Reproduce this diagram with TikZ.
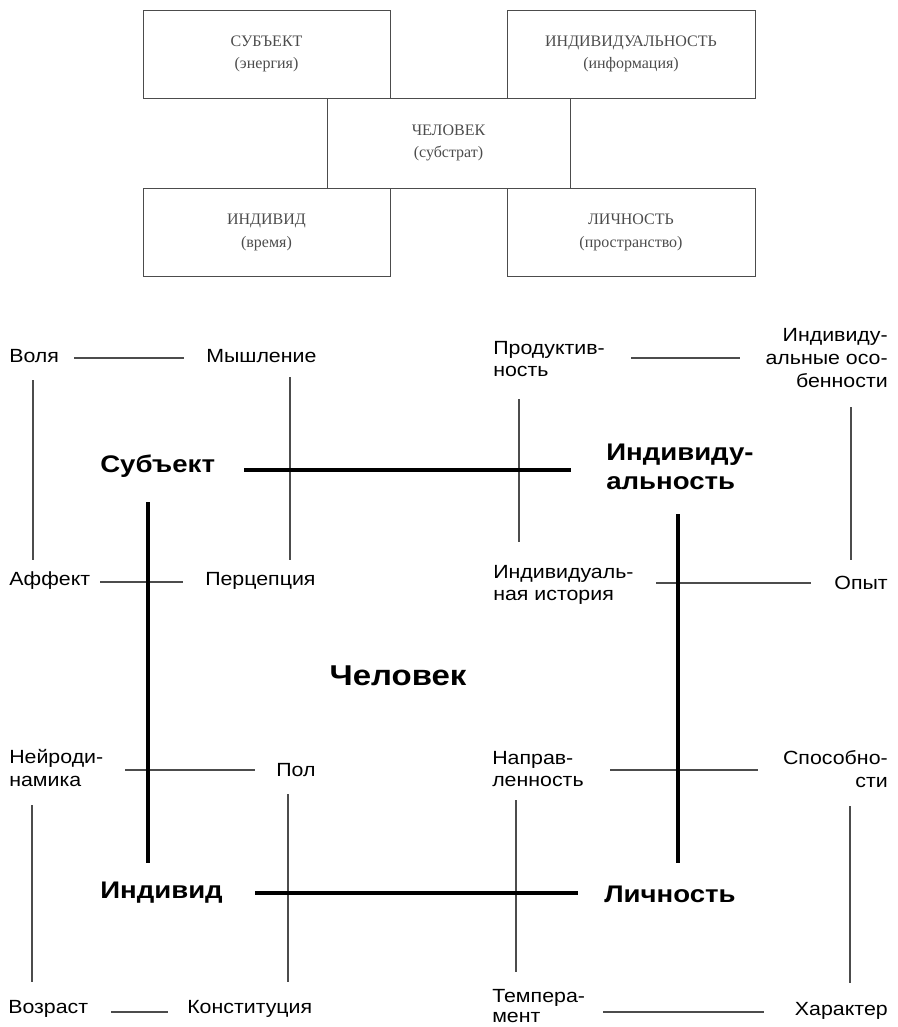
\documentclass[tikz,border=0pt]{standalone}
\usepackage{fontspec}
\setmainfont{Liberation Serif}
\newfontfamily\labfont[FakeStretch=1.12]{Liberation Sans}
\newfontfamily\bigfont[FakeStretch=1.15]{Liberation Sans}
\usepackage{tikz}
\usetikzlibrary{positioning}

\tikzset{
    boxnode/.style={draw=black!70,line width=0.7pt,minimum width=#1*0.75pt,minimum height=88*0.75pt,
        align=center,text=black!70,font=\fontsize{12}{17}\selectfont},
    lab/.style={inner sep=0pt,align=left,font=\labfont\fontsize{14.3}{17}\selectfont},
    labr/.style={lab,align=right,anchor=east},
    big/.style={inner sep=0pt,align=left,font=\bigfont\bfseries\fontsize{18}{22}\selectfont},
    thinline/.style={black!70,line width=0.8pt},
    thickline/.style={black,line width=3pt}
}

\begin{document}
\begin{tikzpicture}[x=0.75pt,y=-0.75pt]
                \useasboundingbox (0,0) rectangle (898,1027);
                % top scheme
                \node[boxnode=247] (subjbox) at (266.5,54) {СУБЪЕКТ\\(энергия)};
                \node[boxnode=248] (indbox) at (631,54) {ИНДИВИДУАЛЬНОСТЬ\\(информация)};
                \node[boxnode=243,minimum height=90*0.75pt] (chelbox) at (448.5,143) {ЧЕЛОВЕК\\(субстрат)};
                \node[boxnode=247] (indvdbox) at (266.5,232.5) {ИНДИВИД\\(время)};
                \node[boxnode=248] (lichbox) at (631,232.5) {ЛИЧНОСТЬ\\(пространство)};
                % lower scheme
                \node[lab,anchor=west] (volya) at (9,356) {Воля};
                \node[lab,anchor=west] (myshl) at (206,356) {Мышление};
                \node[lab,anchor=west] (affekt) at (9,581) {Аффект};
                \node[lab,anchor=west] (perc) at (205,581) {Перцепция};
                \node[big,anchor=west] (subj) at (100,466) {Субъект};
                \node[lab,anchor=west] (prod) at (493,359) {Продуктив-\\ность};
                \node[labr] (osob) at (888,358) {Индивиду-\\альные осо-\\бенности};
                \node[big,anchor=west] (indiv) at (606,467) {Индивиду-\\альность};
                \node[lab,anchor=west] (hist) at (493,585) {Индивидуаль-\\ная история};
                \node[labr] (opyt) at (888,583) {Опыт};
                \node[big,font=\bigfont\bfseries\fontsize{21.5}{24}\selectfont] (chel) at (398,676) {Человек};
                \node[lab,anchor=west] (neiro) at (9,768) {Нейроди-\\намика};
                \node[lab,anchor=west] (pol) at (276,770) {Пол};
                \node[big,anchor=west] (indvd) at (100,893) {Индивид};
                \node[lab,anchor=west] (vozr) at (8,1009) {Возраст};
                \node[lab,anchor=west] (konst) at (187,1009) {Конституция};
                \node[lab,anchor=west] (napr) at (492,769) {Направ-\\ленность};
                \node[labr] (sposob) at (888,769) {Способно-\\сти};
                \node[big,anchor=west] (lichn) at (604,894) {Личность};
                \node[lab,anchor=west,font=\labfont\fontsize{14.3}{15.5}\selectfont] (temp) at (492,1006) {Темпера-\\мент};
                \node[labr] (harakt) at (888,1011) {Характер};
                % thin links
                \draw[thinline] ([shift={(65,2)}]volya.west) -- ([shift={(-22,2)}]myshl.west);
                \draw[thinline] ([shift={(24,24)}]volya.west) -- ([shift={(24,-21)}]affekt.west);
                \draw[thinline] ([shift={(84,21)}]myshl.west) -- ([shift={(85,-21)}]perc.west);
                \draw[thinline] ([shift={(91,1)}]affekt.west) -- ([shift={(-22,1)}]perc.west);
                \draw[thinline] ([shift={(138,-1)}]prod.west) -- ([shift={(-148,0)}]osob.east);
                \draw[thinline] ([shift={(26,40)}]prod.west) -- ([shift={(26,-43)}]hist.west);
                \draw[thinline] ([shift={(-37,49)}]osob.east) -- ([shift={(-37,-23)}]opyt.east);
                \draw[thinline] ([shift={(163,-2)}]hist.west) -- ([shift={(-77,0)}]opyt.east);
                \draw[thinline] ([shift={(116,2)}]neiro.west) -- ([shift={(-21,0)}]pol.west);
                \draw[thinline] ([shift={(23,37)}]neiro.west) -- ([shift={(24,-27)}]vozr.west);
                \draw[thinline] ([shift={(12,24)}]pol.west) -- ([shift={(101,-27)}]konst.west);
                \draw[thinline] ([shift={(103,3)}]vozr.west) -- ([shift={(-19,3)}]konst.west);
                \draw[thinline] ([shift={(118,1)}]napr.west) -- ([shift={(-130,1)}]sposob.east);
                \draw[thinline] ([shift={(24,31)}]napr.west) -- ([shift={(24,-34)}]temp.west);
                \draw[thinline] ([shift={(-38,37)}]sposob.east) -- ([shift={(-38,-28)}]harakt.east);
                \draw[thinline] ([shift={(111,6)}]temp.west) -- ([shift={(-124,1)}]harakt.east);
                % thick links
                \draw[thickline] ([shift={(144,4)}]subj.west) -- ([shift={(-35,3)}]indiv.west);
                \draw[thickline] ([shift={(48,36)}]subj.west) -- ([shift={(48,-30)}]indvd.west);
                \draw[thickline] ([shift={(72,47)}]indiv.west) -- ([shift={(74,-31)}]lichn.west);
                \draw[thickline] ([shift={(155,0)}]indvd.west) -- ([shift={(-26,-1)}]lichn.west);
\end{tikzpicture}
\end{document}
